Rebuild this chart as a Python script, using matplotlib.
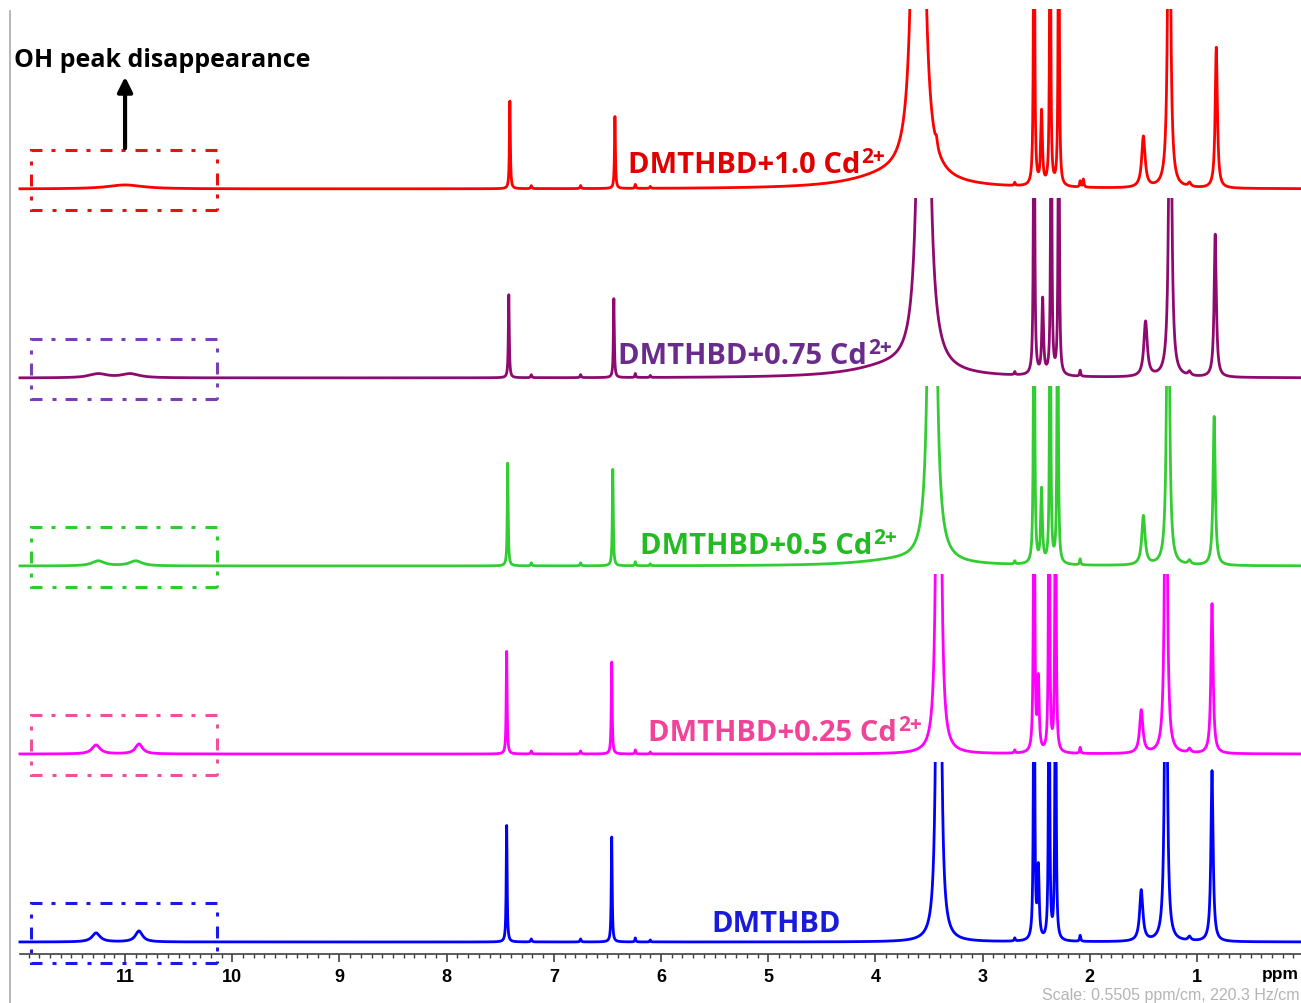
import numpy as np
import matplotlib
matplotlib.use("Agg")
import matplotlib.pyplot as plt
from matplotlib.patches import Rectangle
from matplotlib.lines import Line2D
from matplotlib.ticker import MultipleLocator

# --- Peak tables: (ppm, height, half-width) ---
# heights in pixels above each baseline; >180 means the peak runs off the strip
peaks_blue = [
    (11.27, 9, 0.045), (10.87, 11, 0.04),
    (7.44, 117, 0.005), (6.46, 105, 0.005),
    (3.41, 2000, 0.010),
    (2.52, 500, 0.005), (2.48, 70, 0.009), (2.38, 450, 0.005), (2.32, 450, 0.005),
    (1.52, 51, 0.018), (1.29, 450, 0.012), (0.86, 171, 0.012),
]
peaks_pink = [
    (11.27, 9, 0.045), (10.87, 10, 0.04),
    (7.44, 103, 0.005), (6.46, 92, 0.005),
    (3.41, 2000, 0.010),
    (2.52, 500, 0.005), (2.48, 71, 0.009), (2.38, 450, 0.005), (2.32, 450, 0.005),
    (1.52, 43, 0.018), (1.29, 450, 0.012), (0.86, 150, 0.012),
]
peaks_green = [
    (11.25, 5, 0.07), (10.90, 5, 0.07),
    (7.43, 103, 0.005), (6.45, 97, 0.005),
    (3.47, 2000, 0.016), (3.80, 5, 0.45),
    (2.52, 500, 0.005), (2.45, 73, 0.009), (2.37, 450, 0.005), (2.30, 450, 0.005),
    (1.50, 49, 0.018), (1.27, 450, 0.012), (0.84, 149, 0.012),
]
peaks_purple = [
    (11.25, 4, 0.10), (10.95, 4, 0.10),
    (7.42, 83, 0.005), (6.44, 79, 0.005),
    (3.55, 2000, 0.023), (3.85, 10, 0.45),
    (2.52, 500, 0.005), (2.44, 75, 0.009), (2.36, 450, 0.005), (2.29, 450, 0.005),
    (1.48, 55, 0.019), (1.25, 450, 0.013), (0.83, 143, 0.012),
]
peaks_red = [
    (11.00, 4, 0.20),
    (7.41, 88, 0.005), (6.43, 72, 0.005),
    (3.60, 2000, 0.024), (3.85, 12, 0.45), (3.43, 8, 0.010),
    (2.52, 500, 0.005), (2.45, 73, 0.009), (2.37, 450, 0.005), (2.29, 450, 0.005),
    (2.06, 8, 0.006),
    (1.50, 51, 0.019), (1.26, 450, 0.013), (0.82, 141, 0.012),
]
# small impurity bumps seen in every trace
minor_peaks = [(7.21, 3, 0.006), (6.75, 3, 0.006), (6.24, 4, 0.005), (6.10, 2, 0.005),
               (2.70, 3, 0.006), (2.09, 6, 0.006), (1.07, 4, 0.015)]

labels = ["DMTHBD", "DMTHBD+0.25 Cd", "DMTHBD+0.5 Cd", "DMTHBD+0.75 Cd", "DMTHBD+1.0 Cd"]
label_sup = ["", "2+", "2+", "2+", "2+"]
spectra = [peaks_blue, peaks_pink, peaks_green, peaks_purple, peaks_red]

# --- Styling / layout ---
line_colors = ["#0000FF", "#FF00FF", "#33CC33", "#8E0A6E", "#FF0000"]
label_colors = ["#1A1ADB", "#F0449A", "#22BB22", "#6A2C8C", "#E00000"]
box_colors = ["#1A1AE6", "#F0509B", "#2ECC2E", "#7B3FB5", "#E81010"]
offsets = [12, 200, 388, 576, 765]
label_x = [5.53, 6.12, 6.20, 6.40, 6.31]
label_dy = [11, 14, 13, 15, 17]
strip_h = 180

plt.rcParams["lines.scale_dashes"] = False

fig = plt.figure(figsize=(13.01, 10.04), dpi=100)
ax = fig.add_axes([20 / 1301, 49 / 1004, 1281 / 1301, 955 / 1004])
ax.set_xlim(11.98, 0.03)
ax.set_ylim(0, 955)

ppm = np.linspace(0, 12, 14000)

for peaks, off, col in zip(spectra, offsets, line_colors):
    y = np.zeros_like(ppm)
    for x0, h, w in peaks + minor_peaks:
        y += h / (1 + ((ppm - x0) / w) ** 2)
    ln, = ax.plot(ppm, y + off, color=col, lw=2.0)
    clip = Rectangle((0, off - 30), 12, strip_h + 30, transform=ax.transData)
    ln.set_clip_path(clip)

# dash-dot boxes around the OH region
for off, bc in zip(offsets, box_colors):
    ax.add_patch(Rectangle((10.14, off - 21), 1.74, 60, fill=False, ec=bc, lw=2.2,
                           linestyle=(0, (8.6, 6.5, 2.9, 7.2)), clip_on=False))

# sample labels
for lab, sup, lx, dy, off, lc in zip(labels, label_sup, label_x, label_dy, offsets, label_colors):
    t = ax.text(lx, off + dy, lab, color=lc, fontsize=21, fontweight="bold",
                family="Open Sans", ha="left", va="baseline")
    if sup:
        ax.annotate(sup, xy=(1.0, 1.0), xycoords=t, xytext=(1, 3), textcoords="offset points",
                    color=lc, fontsize=15, fontweight="bold", family="Open Sans",
                    ha="left", va="top")

# arrow and note
ax.annotate("", xy=(11.0, 880), xytext=(11.0, 803),
            arrowprops=dict(arrowstyle="-|>", lw=3, color="black", mutation_scale=22),
            annotation_clip=False)
fig.text(14 / 1301, 1 - 67 / 1004, "OH peak disappearance", fontsize=18, fontweight="bold",
         family="Open Sans", ha="left", va="baseline")

# axis styling
for s in ["top", "left", "right"]:
    ax.spines[s].set_visible(False)
ax.spines["bottom"].set_color("#404040")
ax.spines["bottom"].set_linewidth(1.2)
ax.set_yticks([])
ax.xaxis.set_major_locator(MultipleLocator(1))
ax.xaxis.set_minor_locator(MultipleLocator(0.1))
ax.set_xticks(np.arange(1, 12))
ax.tick_params(axis="x", which="major", length=6, width=1.2, color="#404040", pad=4,
               labelsize=13)
ax.tick_params(axis="x", which="minor", length=3, width=1, color="#404040")
for tl in ax.get_xticklabels():
    tl.set_fontfamily("Liberation Sans")
    tl.set_fontweight("bold")

fig.text(1299 / 1301, 1 - 975 / 1004, "ppm", fontsize=12.5, fontweight="bold",
         family="Liberation Sans", ha="right", va="center")
fig.text(0.999, 1 - 996 / 1004, "Scale: 0.5505 ppm/cm, 220.3 Hz/cm", fontsize=11.5,
         color="#B4B4B4", family="Liberation Sans", ha="right", va="center")

# thin gray frame line on the left
fig.add_artist(Line2D([10 / 1301, 10 / 1301], [0, 1 - 12 / 1004], color="#AAAAAA", lw=1.2))

fig.savefig("out.png", dpi=100)
